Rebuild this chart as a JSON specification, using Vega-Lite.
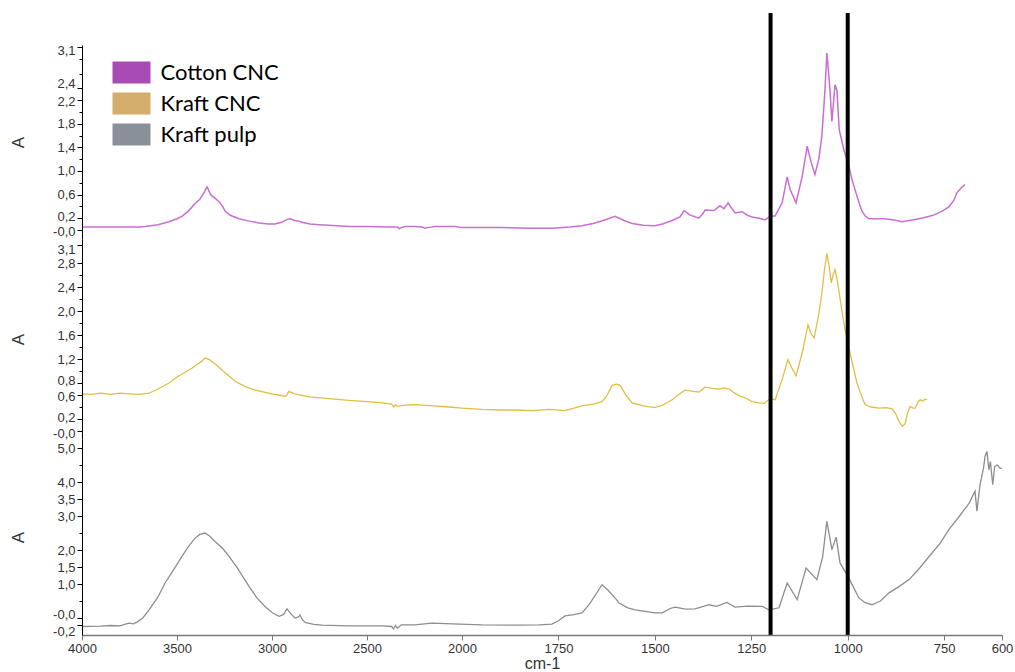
{
"$schema": "https://vega.github.io/schema/vega-lite/v6.json",
"background": "white",
"padding": {"left": 9, "top": 10, "right": 5, "bottom": 0},
"spacing": 0,
"bounds": "flush",
"config": {"view": {"stroke": null}, "font": "Liberation Sans",
 "axis": {"domain": true, "ticks": true, "domainWidth": 1, "tickWidth": 1, "domainOpacity": 1, "tickOpacity": 1, "grid": false, "labelFont": "Liberation Sans", "titleFont": "Liberation Sans"}},
"datasets": {
"marks": [{"wn": 1200}, {"wn": 1000}],
"cotton": [
[4000,0.05],[3900,0.05],[3800,0.05],[3700,0.05],[3668,0.06],[3600,0.09],[3542,0.14],[3500,0.19],[3474,0.23],[3440,0.32],[3405,0.45],[3380,0.52],[3360,0.62],[3342,0.73],[3330,0.65],[3321,0.59],[3300,0.54],[3279,0.48],[3260,0.40],[3247,0.32],[3220,0.25],[3174,0.19],[3120,0.15],[3068,0.12],[3020,0.10],[2984,0.10],[2950,0.13],[2920,0.18],[2905,0.19],[2880,0.16],[2860,0.15],[2842,0.13],[2800,0.10],[2753,0.09],[2700,0.08],[2595,0.06],[2500,0.06],[2400,0.05],[2340,0.05],[2330,0.02],[2320,0.04],[2300,0.06],[2247,0.06],[2210,0.05],[2195,0.03],[2180,0.04],[2142,0.06],[2080,0.06],[2037,0.06],[2020,0.05],[2000,0.04],[1900,0.04],[1818,0.03],[1767,0.03],[1720,0.05],[1689,0.07],[1660,0.11],[1630,0.17],[1603,0.23],[1580,0.16],[1559,0.11],[1530,0.08],[1500,0.07],[1480,0.10],[1455,0.16],[1435,0.22],[1424,0.33],[1411,0.26],[1386,0.20],[1375,0.28],[1370,0.34],[1347,0.33],[1331,0.41],[1321,0.36],[1310,0.46],[1300,0.36],[1292,0.29],[1274,0.31],[1260,0.25],[1248,0.22],[1230,0.20],[1214,0.17],[1204,0.22],[1188,0.24],[1170,0.46],[1157,0.90],[1149,0.68],[1134,0.46],[1118,0.91],[1105,1.42],[1095,1.15],[1085,0.94],[1075,1.20],[1067,1.59],[1059,2.37],[1054,3.00],[1050,2.70],[1046,2.37],[1041,1.84],[1033,2.46],[1028,2.37],[1022,1.70],[1010,1.36],[997,1.08],[990,0.88],[981,0.68],[970,0.45],[963,0.32],[955,0.24],[945,0.19],[903,0.19],[880,0.17],[859,0.14],[840,0.16],[815,0.19],[790,0.23],[774,0.26],[755,0.32],[738,0.39],[725,0.50],[717,0.63],[705,0.72],[696,0.77]
],
"kraftcnc": [
[4000,0.62],[3950,0.61],[3900,0.63],[3850,0.61],[3800,0.63],[3750,0.62],[3700,0.61],[3647,0.63],[3600,0.70],[3542,0.80],[3500,0.90],[3458,0.98],[3420,1.05],[3395,1.11],[3370,1.16],[3353,1.22],[3330,1.19],[3300,1.12],[3250,0.98],[3195,0.83],[3140,0.74],[3089,0.68],[3000,0.62],[2932,0.58],[2925,0.59],[2911,0.66],[2880,0.62],[2805,0.57],[2700,0.54],[2595,0.51],[2500,0.49],[2421,0.47],[2370,0.45],[2360,0.40],[2350,0.44],[2340,0.41],[2300,0.43],[2247,0.44],[2150,0.42],[2068,0.40],[2000,0.38],[1948,0.36],[1900,0.35],[1863,0.35],[1818,0.34],[1774,0.36],[1733,0.34],[1710,0.38],[1689,0.42],[1660,0.45],[1637,0.49],[1625,0.58],[1611,0.76],[1600,0.78],[1590,0.76],[1575,0.60],[1559,0.47],[1530,0.42],[1500,0.39],[1480,0.43],[1455,0.52],[1440,0.60],[1422,0.68],[1400,0.66],[1386,0.65],[1370,0.73],[1350,0.71],[1334,0.70],[1320,0.72],[1308,0.70],[1295,0.64],[1282,0.59],[1265,0.55],[1248,0.49],[1230,0.47],[1217,0.46],[1201,0.54],[1188,0.52],[1170,0.86],[1155,1.19],[1145,1.05],[1134,0.92],[1118,1.30],[1103,1.77],[1095,1.62],[1087,1.55],[1075,1.95],[1067,2.30],[1060,2.70],[1054,2.96],[1048,2.75],[1043,2.47],[1038,2.60],[1033,2.69],[1028,2.55],[1022,2.30],[1015,2.00],[1007,1.69],[991,1.22],[976,0.80],[965,0.60],[955,0.44],[940,0.40],[919,0.38],[900,0.39],[885,0.37],[875,0.28],[867,0.16],[859,0.08],[851,0.12],[845,0.30],[838,0.41],[830,0.38],[825,0.38],[818,0.48],[812,0.52],[805,0.50],[800,0.53],[794,0.52]
],
"pulp": [
[4000,-0.25],[3900,-0.24],[3850,-0.22],[3800,-0.23],[3754,-0.15],[3730,-0.17],[3711,-0.12],[3680,0.0],[3647,0.24],[3600,0.62],[3563,1.03],[3520,1.40],[3474,1.81],[3440,2.10],[3405,2.35],[3380,2.46],[3353,2.50],[3330,2.42],[3300,2.25],[3260,2.05],[3226,1.81],[3180,1.45],[3121,0.93],[3080,0.60],[3037,0.34],[3000,0.16],[2963,0.05],[2940,0.10],[2921,0.27],[2900,0.12],[2879,0.00],[2860,0.03],[2853,0.09],[2840,-0.05],[2826,-0.13],[2780,-0.19],[2737,-0.21],[2600,-0.23],[2421,-0.23],[2370,-0.25],[2360,-0.32],[2350,-0.22],[2340,-0.30],[2320,-0.20],[2250,-0.20],[2158,-0.15],[2050,-0.17],[1948,-0.20],[1850,-0.21],[1800,-0.20],[1767,-0.18],[1750,-0.08],[1733,0.06],[1710,0.10],[1689,0.15],[1670,0.40],[1650,0.75],[1637,0.98],[1620,0.80],[1600,0.55],[1593,0.44],[1570,0.30],[1551,0.24],[1500,0.15],[1481,0.15],[1460,0.28],[1448,0.32],[1420,0.26],[1396,0.27],[1370,0.36],[1360,0.39],[1340,0.34],[1313,0.46],[1292,0.32],[1260,0.35],[1222,0.34],[1204,0.24],[1178,0.30],[1157,1.03],[1131,0.54],[1108,1.47],[1080,1.13],[1065,1.80],[1054,2.84],[1041,2.01],[1030,2.38],[1020,1.62],[997,1.18],[985,0.90],[971,0.59],[955,0.45],[937,0.39],[915,0.50],[893,0.74],[870,0.90],[841,1.13],[815,1.45],[789,1.81],[760,2.20],[738,2.60],[710,3.00],[685,3.38],[670,3.73],[665,3.14],[657,3.92],[648,4.40],[644,4.76],[639,4.90],[634,4.36],[630,4.60],[624,3.92],[619,4.46],[612,4.50],[605,4.40],[600,4.41]
]
},
"vconcat": [
{
"width": 920, "height": 194,
"layer": [
{"data": {"name": "cotton"},
 "transform": [{"calculate": "datum[0]", "as": "wn"}, {"calculate": "datum[1]", "as": "A"}, {"calculate": "'Cotton CNC'", "as": "s"}],
 "mark": {"type": "line", "strokeWidth": 1.5},
 "encoding": {
  "x": {"field": "wn", "type": "quantitative", "scale": {"domain": [4000, 2000, 600], "range": [0, 380, 920], "nice": false, "zero": false}, "axis": null},
  "y": {"field": "A", "type": "quantitative", "scale": {"domain": [-0.153, 3.136], "nice": false, "zero": false},
   "axis": {"title": "A", "domain": true, "ticks": true, "domainWidth": 1, "domainOpacity": 1, "domainDash": [], "tickWidth": 1, "tickOpacity": 1, "tickDash": [], "zindex": 2, "values": [0, 0.2, 0.4, 0.6, 0.8, 1.0, 1.2, 1.4, 1.6, 1.8, 2.0, 2.2, 2.4, 2.65, 2.9, 3.1], "labelExpr": "indexof([0, 0.2, 0.6, 1.0, 1.4, 1.8, 2.2, 2.4, 3.1], datum.value) < 0 ? '' : datum.value == 0 ? '-0,0' : replace(replace(format(datum.value, '.1f'), '.', ','), '\u2212', '-')", "domainColor": "#000", "tickColor": "#000",
    "tickSize": {"condition": {"test": "indexof([0, 0.2, 0.6, 1.0, 1.4, 1.8, 2.2, 2.4, 3.1], datum.value) < 0", "value": 3}, "value": 5},
    "labelOffset": {"condition": [{"test": "datum.value == 2.4", "value": -5}, {"test": "datum.value == 3.1", "value": 3}, {"test": "datum.value == 0", "value": 2}, {"test": "datum.value == 0.2", "value": -2}, {"test": "datum.value == 2.2", "value": 1}], "value": 0},
    "labelFontSize": 13, "labelColor": "#333", "labelPadding": 2, "titleFontSize": 17, "titleFontWeight": "normal", "titleColor": "#333", "minExtent": 40, "maxExtent": 40, "titlePadding": 15, "labelOverlap": false, "labelBound": false, "labelFlush": false}},
  "color": {"field": "s", "type": "nominal", "scale": {"domain": ["Cotton CNC", "Kraft CNC", "Kraft pulp"], "range": ["#C96ED3", "#E2BE45", "#8E8E8E"]},
   "legend": {"title": null, "orient": "none", "legendX": 38.5, "legendY": 16.5, "padding": 0, "symbolType": "M-1.727,-1L1.727,-1L1.727,1L-1.727,1Z", "symbolSize": 484, "symbolStrokeWidth": 0, "labelFontSize": 22, "labelFont": "Lato", "labelColor": "#000", "labelOffset": 18, "rowPadding": 9,
    "encode": {"symbols": {"update": {"fill": {"signal": "datum.value === 'Cotton CNC' ? '#A84BB4' : datum.value === 'Kraft CNC' ? '#D3AD6B' : '#8A9099'"}, "fillOpacity": {"value": 1}, "strokeWidth": {"value": 0}}}}}}
 }},
{"data": {"name": "marks"},
 "mark": {"type": "rule", "strokeWidth": 4, "color": "#000"},
 "encoding": {"x": {"field": "wn", "type": "quantitative"}, "y": {"datum": 3.68, "type": "quantitative",
   "axis": {"title": "A", "domain": true, "ticks": true, "domainWidth": 1, "domainOpacity": 1, "domainDash": [], "tickWidth": 1, "tickOpacity": 1, "tickDash": [], "zindex": 2, "values": [0, 0.2, 0.4, 0.6, 0.8, 1.0, 1.2, 1.4, 1.6, 1.8, 2.0, 2.2, 2.4, 2.65, 2.9, 3.1], "labelExpr": "indexof([0, 0.2, 0.6, 1.0, 1.4, 1.8, 2.2, 2.4, 3.1], datum.value) < 0 ? '' : datum.value == 0 ? '-0,0' : replace(replace(format(datum.value, '.1f'), '.', ','), '\u2212', '-')", "domainColor": "#000", "tickColor": "#000",
    "tickSize": {"condition": {"test": "indexof([0, 0.2, 0.6, 1.0, 1.4, 1.8, 2.2, 2.4, 3.1], datum.value) < 0", "value": 3}, "value": 5},
    "labelOffset": {"condition": [{"test": "datum.value == 2.4", "value": -5}, {"test": "datum.value == 3.1", "value": 3}, {"test": "datum.value == 0", "value": 2}, {"test": "datum.value == 0.2", "value": -2}, {"test": "datum.value == 2.2", "value": 1}], "value": 0},
    "labelFontSize": 13, "labelColor": "#333", "labelPadding": 2, "titleFontSize": 17, "titleFontWeight": "normal", "titleColor": "#333", "minExtent": 40, "maxExtent": 40, "titlePadding": 15, "labelOverlap": false, "labelBound": false, "labelFlush": false}}, "y2": {"datum": -0.153}}}
]
},
{
"width": 920, "height": 200,
"layer": [
{"data": {"name": "kraftcnc"},
 "transform": [{"calculate": "datum[0]", "as": "wn"}, {"calculate": "datum[1]", "as": "A"}, {"calculate": "'Kraft CNC'", "as": "s"}],
 "mark": {"type": "line", "strokeWidth": 1.3},
 "encoding": {
  "x": {"field": "wn", "type": "quantitative", "scale": {"domain": [4000, 2000, 600], "range": [0, 380, 920], "nice": false, "zero": false}, "axis": null},
  "y": {"field": "A", "type": "quantitative", "scale": {"domain": [-0.133, 3.2], "nice": false, "zero": false},
   "axis": {"title": "A", "domain": true, "ticks": true, "domainWidth": 1, "domainOpacity": 1, "domainDash": [], "tickWidth": 1, "tickOpacity": 1, "tickDash": [], "zindex": 2, "values": [0, 0.2, 0.4, 0.6, 0.8, 1.0, 1.2, 1.4, 1.6, 1.8, 2.0, 2.2, 2.4, 2.6, 2.8, 3.1], "labelExpr": "indexof([0, 0.2, 0.6, 0.8, 1.2, 1.6, 2.0, 2.4, 2.8, 3.1], datum.value) < 0 ? '' : datum.value == 0 ? '-0,0' : replace(replace(format(datum.value, '.1f'), '.', ','), '\u2212', '-')", "domainColor": "#000", "tickColor": "#000",
    "tickSize": {"condition": {"test": "indexof([0, 0.2, 0.6, 0.8, 1.2, 1.6, 2.0, 2.4, 2.8, 3.1], datum.value) < 0", "value": 3}, "value": 5},
    "labelOffset": {"condition": [{"test": "datum.value == 3.1", "value": 4}, {"test": "datum.value == 0.8", "value": -3}, {"test": "datum.value == 0.6", "value": 1}, {"test": "datum.value == 0.2", "value": -2}, {"test": "datum.value == 0", "value": 2}], "value": 0},
    "labelFontSize": 13, "labelColor": "#333", "labelPadding": 2, "titleFontSize": 17, "titleFontWeight": "normal", "titleColor": "#333", "minExtent": 40, "maxExtent": 40, "titlePadding": 15, "labelOverlap": false, "labelBound": false, "labelFlush": false}},
  "color": {"field": "s", "type": "nominal", "scale": {"domain": ["Cotton CNC", "Kraft CNC", "Kraft pulp"], "range": ["#C96ED3", "#E2BE45", "#8E8E8E"]},
   "legend": {"title": null, "orient": "none", "legendX": 38.5, "legendY": 16.5, "padding": 0, "symbolType": "M-1.727,-1L1.727,-1L1.727,1L-1.727,1Z", "symbolSize": 484, "symbolStrokeWidth": 0, "labelFontSize": 22, "labelFont": "Lato", "labelColor": "#000", "labelOffset": 18, "rowPadding": 9,
    "encode": {"symbols": {"update": {"fill": {"signal": "datum.value === 'Cotton CNC' ? '#A84BB4' : datum.value === 'Kraft CNC' ? '#D3AD6B' : '#8A9099'"}, "fillOpacity": {"value": 1}, "strokeWidth": {"value": 0}}}}}}
 }},
{"data": {"name": "marks"},
 "mark": {"type": "rule", "strokeWidth": 4, "color": "#000"},
 "encoding": {"x": {"field": "wn", "type": "quantitative"}}}
]
},
{
"width": 920, "height": 196,
"layer": [
{"data": {"name": "pulp"},
 "transform": [{"calculate": "datum[0]", "as": "wn"}, {"calculate": "datum[1]", "as": "A"}, {"calculate": "'Kraft pulp'", "as": "s"}],
 "mark": {"type": "line", "strokeWidth": 1.3},
 "encoding": {
  "x": {"field": "wn", "type": "quantitative", "scale": {"domain": [4000, 2000, 600], "range": [0, 380, 920], "nice": false, "zero": false},
   "axis": {"title": "cm-1", "domain": true, "ticks": true, "domainWidth": 1.5, "domainOpacity": 1, "domainDash": [], "tickWidth": 1, "tickOpacity": 1, "tickDash": [], "zindex": 2, "values": [4000, 3500, 3000, 2500, 2000, 1750, 1500, 1250, 1000, 750, 600], "format": "d", "domainColor": "#777", "tickColor": "#777", "tickSize": 5, "labelFontSize": 13, "labelColor": "#333", "labelPadding": 2, "titleFontSize": 16, "titleFontWeight": "normal", "titleColor": "#333", "titlePadding": 0, "labelFlush": false, "labelOverlap": false}},
  "y": {"field": "A", "type": "quantitative", "scale": {"domain": [-0.5, 5.265], "nice": false, "zero": false},
   "axis": {"title": "A", "domain": true, "ticks": true, "domainWidth": 1, "domainOpacity": 1, "domainDash": [], "tickWidth": 1, "tickOpacity": 1, "tickDash": [], "zindex": 2, "values": [-0.2, 0, 0.5, 1.0, 1.5, 2.0, 2.5, 3.0, 3.5, 4.0, 4.5, 5.0], "labelExpr": "indexof([-0.2, 0, 1.0, 1.5, 2.0, 3.0, 3.5, 4.0, 5.0], datum.value) < 0 ? '' : datum.value == 0 ? '-0,0' : replace(replace(format(datum.value, '.1f'), '.', ','), '\u2212', '-')", "domainColor": "#000", "tickColor": "#000",
    "tickSize": {"condition": {"test": "indexof([-0.2, 0, 1.0, 1.5, 2.0, 3.0, 3.5, 4.0, 5.0], datum.value) < 0", "value": 3}, "value": 5},
    "labelOffset": {"condition": [{"test": "datum.value < -0.1", "value": 7}, {"test": "datum.value == 0", "value": -4}], "value": 0},
    "labelFontSize": 13, "labelColor": "#333", "labelPadding": 2, "titleFontSize": 17, "titleFontWeight": "normal", "titleColor": "#333", "minExtent": 40, "maxExtent": 40, "titlePadding": 15, "labelOverlap": false, "labelBound": false, "labelFlush": false}},
  "color": {"field": "s", "type": "nominal", "scale": {"domain": ["Cotton CNC", "Kraft CNC", "Kraft pulp"], "range": ["#C96ED3", "#E2BE45", "#8E8E8E"]},
   "legend": {"title": null, "orient": "none", "legendX": 38.5, "legendY": 16.5, "padding": 0, "symbolType": "M-1.727,-1L1.727,-1L1.727,1L-1.727,1Z", "symbolSize": 484, "symbolStrokeWidth": 0, "labelFontSize": 22, "labelFont": "Lato", "labelColor": "#000", "labelOffset": 18, "rowPadding": 9,
    "encode": {"symbols": {"update": {"fill": {"signal": "datum.value === 'Cotton CNC' ? '#A84BB4' : datum.value === 'Kraft CNC' ? '#D3AD6B' : '#8A9099'"}, "fillOpacity": {"value": 1}, "strokeWidth": {"value": 0}}}}}}
 }},
{"data": {"name": "marks"},
 "mark": {"type": "rule", "strokeWidth": 4, "color": "#000"},
 "encoding": {"x": {"field": "wn", "type": "quantitative"}}}
]
}
]
}
